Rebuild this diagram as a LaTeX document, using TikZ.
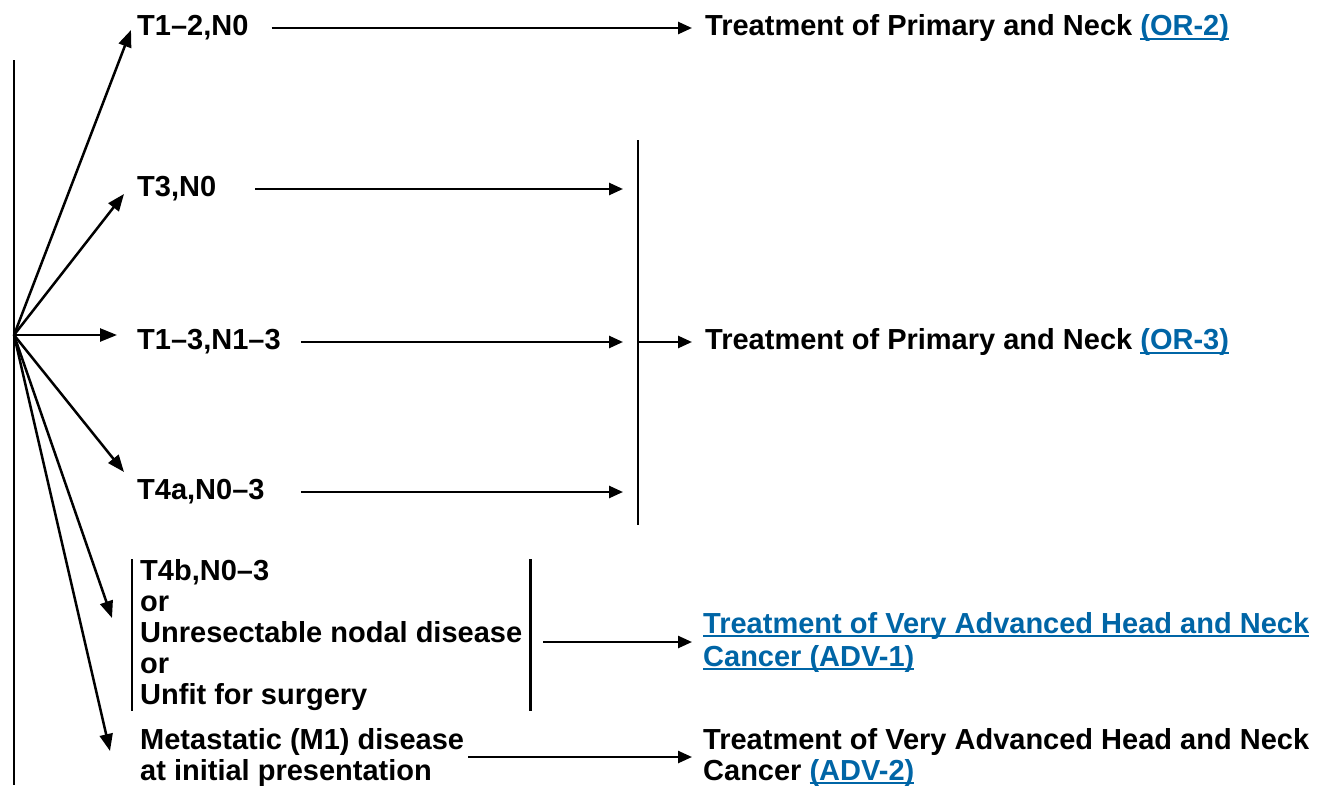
\documentclass[tikz,border=0pt]{standalone}
\usepackage{fontspec}
\setmainfont{Liberation Sans}
\usepackage{xcolor}
\usepackage{tikz}
\usetikzlibrary{shapes, arrows.meta, positioning}
\definecolor{linkblue}{RGB}{0,101,166}
\newcommand{\linktext}[1]{{\color{linkblue}\setbox0\hbox{#1}\rlap{\rule[-4pt]{\wd0}{2pt}}\box0}}

\begin{document}
\begin{tikzpicture}
  [
    x=1pt, y=-1pt,
    Stage/.style={anchor=west, inner sep=0pt, font=\bfseries\fontsize{29}{31}\selectfont, align=left},
    Goal/.style={anchor=west, inner sep=0pt, font=\bfseries\fontsize{29}{31}\selectfont, align=left},
    Fan/.style={-{Triangle[length=17pt, width=13pt]}, line width=2.5pt},
    Arrow/.style={-{Triangle[length=14pt, width=12pt]}, line width=2.5pt},
    Bar/.style={line width=2.8pt}
  ]
  \useasboundingbox (0,0) rectangle (1318,785);

  % Nodes
  \coordinate (top) at (14, 60);
  \coordinate (bottom) at (14, 785);
  \coordinate (o) at (14, 335);
  \node[Stage] (t12) at (137, 28) {T1--2,N0};
  \node[Stage] (t3) at (137, 189) {T3,N0};
  \node[Stage] (t13) at (137, 342) {T1--3,N1--3};
  \node[Stage] (t4a) at (137, 492) {T4a,N0--3};
  \node[Stage, inner xsep=8pt] (t4b) at (132, 635) {T4b,N0--3\\or\\Unresectable nodal disease\\or\\Unfit for surgery};
  \node[Stage] (met) at (140, 757) {Metastatic (M1) disease\\at initial presentation};
  \coordinate (bartop) at (638, 140);
  \coordinate (barbot) at (638, 525);
  \node[Goal] (or2) at (705, 28) {Treatment of Primary and Neck \linktext{(OR-2)}};
  \node[Goal] (or3) at (705, 342) {Treatment of Primary and Neck \linktext{(OR-3)}};
  \node[Goal, font=\bfseries\fontsize{29}{33}\selectfont] (adv1) at (703, 642) {\linktext{Treatment of Very Advanced Head and Neck}\\\linktext{Cancer (ADV-1)}};
  \node[Goal] (adv2) at (703, 757) {Treatment of Very Advanced Head and Neck\\Cancer \linktext{(ADV-2)}};

  % Lines
  \draw[Bar] (top) -- (bottom);
  \draw[Fan] (o) -- ([shift={(-6,2)}]t12.west);
  \draw[Fan] (o) -- ([shift={(-13,5)}]t3.west);
  \draw[Fan] (o) -- ([shift={(-20,-7)}]t13.west);
  \draw[Fan] (o) -- ([shift={(-13,-20)}]t4a.west);
  \draw[Fan] (o) -- ([shift={(-20,-17)}]t4b.west);
  \draw[Fan] (o) -- ([shift={(-30,-6)}]met.west);

  \draw[Arrow, shorten <=23pt, shorten >=13pt] (t12.east) -- (or2.west);
  \draw[Arrow, shorten <=39pt] (t3.east) -- ([xshift=-15pt]t3.west -| bartop);
  \draw[Arrow, shorten <=20pt] (t13.east) -- ([xshift=-15pt]t13.west -| bartop);
  \draw[Arrow, shorten <=36pt] (t4a.east) -- ([xshift=-15pt]t4a.west -| bartop);
  \draw[Bar] (bartop) -- (barbot);
  \draw[Arrow, shorten >=13pt] (or3.west -| bartop) -- (or3.west);

  \draw[Bar] (t4b.north west) -- (t4b.south west);
  \draw[Bar] (t4b.north east) -- (t4b.south east);
  \draw[Arrow, shorten <=13pt, shorten >=11pt] (adv1.west -| t4b.east) -- (adv1.west);
  \draw[Arrow, shorten <=4pt, shorten >=11pt] (met.east) -- (adv2.west);

\end{tikzpicture}
\end{document}
